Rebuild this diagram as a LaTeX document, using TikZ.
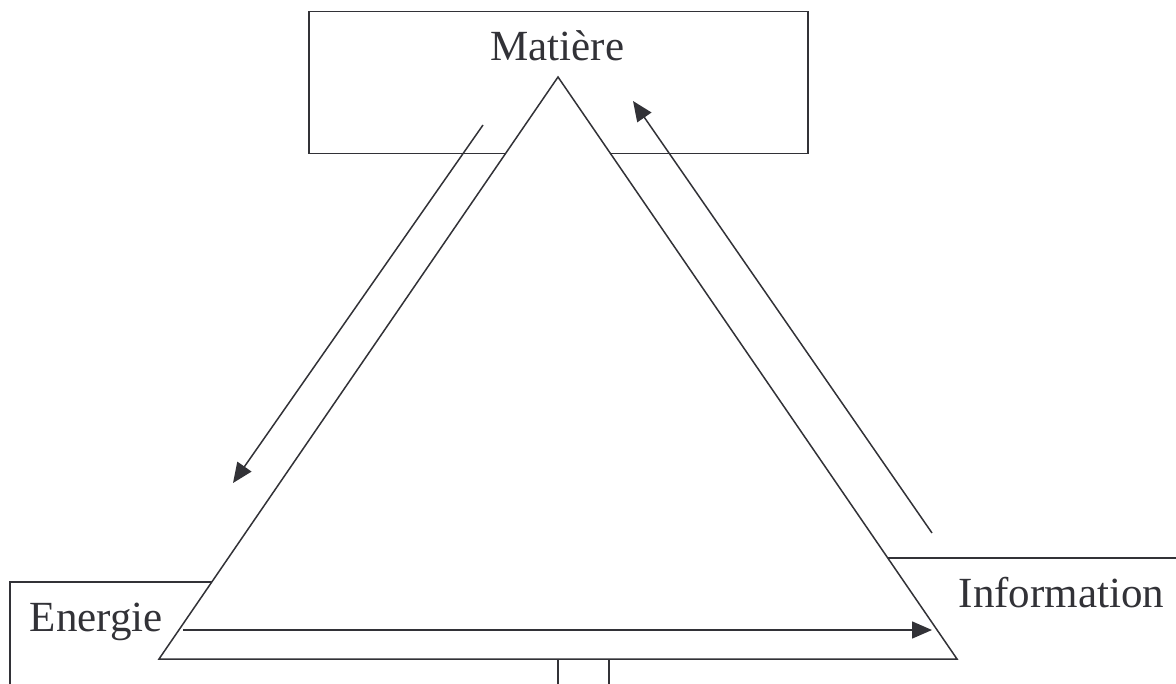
\documentclass[tikz,border=0pt]{standalone}
\usepackage{fontspec}
\setmainfont{Liberation Serif}
\usetikzlibrary{
arrows.meta,
positioning
}
\definecolor{ink}{RGB}{50,50,55}
\tikzset{>={Triangle[length=10pt,width=8.5pt]}}
\tikzset{box/.style={draw=ink,inner sep=0pt,anchor=north west}}

\begin{document}
\begin{tikzpicture}[x=0.5pt, y=-0.5pt, line width=0.75pt, every node/.style={font=\fontsize{21.5}{26}\selectfont, text=ink}]
	\useasboundingbox (0,0) rectangle (1176,684);
	\node[box,minimum width=249.5pt,minimum height=71pt] (matbox) at (308,11) {};
	\node[box,minimum width=274pt,minimum height=70pt]   (enbox)  at (9,581) {};
	\node[box,minimum width=300pt,minimum height=80pt]   (infbox) at (608,557) {};
	
	\coordinate (top) at (558,77);
	\coordinate (bl)  at (159,659);
	\coordinate (br)  at (957,659);
	\filldraw[draw=ink,fill=white] (top) -- (bl) -- (br) -- cycle;
	
	\node[anchor=base,inner sep=0pt]      (mat) at (557.5,61) {Matière};
	\node[anchor=base west,inner sep=0pt] (en)  at (29,631)   {Energie};
	\node[anchor=base west,inner sep=0pt] (inf) at (958,607)  {Information};
	
	\coordinate (matout) at (483,125);
	\coordinate (enin)   at (233,483);
	\coordinate (enout)  at (183,630);
	\coordinate (infin)  at (932,630);
	\coordinate (infout) at (932,533);
	\coordinate (matin)  at (633,101);
	
	\draw[->,ink] (matout) -- (enin);
	\draw[->,ink] (enout) -- (infin);
	\draw[->,ink] (infout) -- (matin);
\end{tikzpicture}
\end{document}
